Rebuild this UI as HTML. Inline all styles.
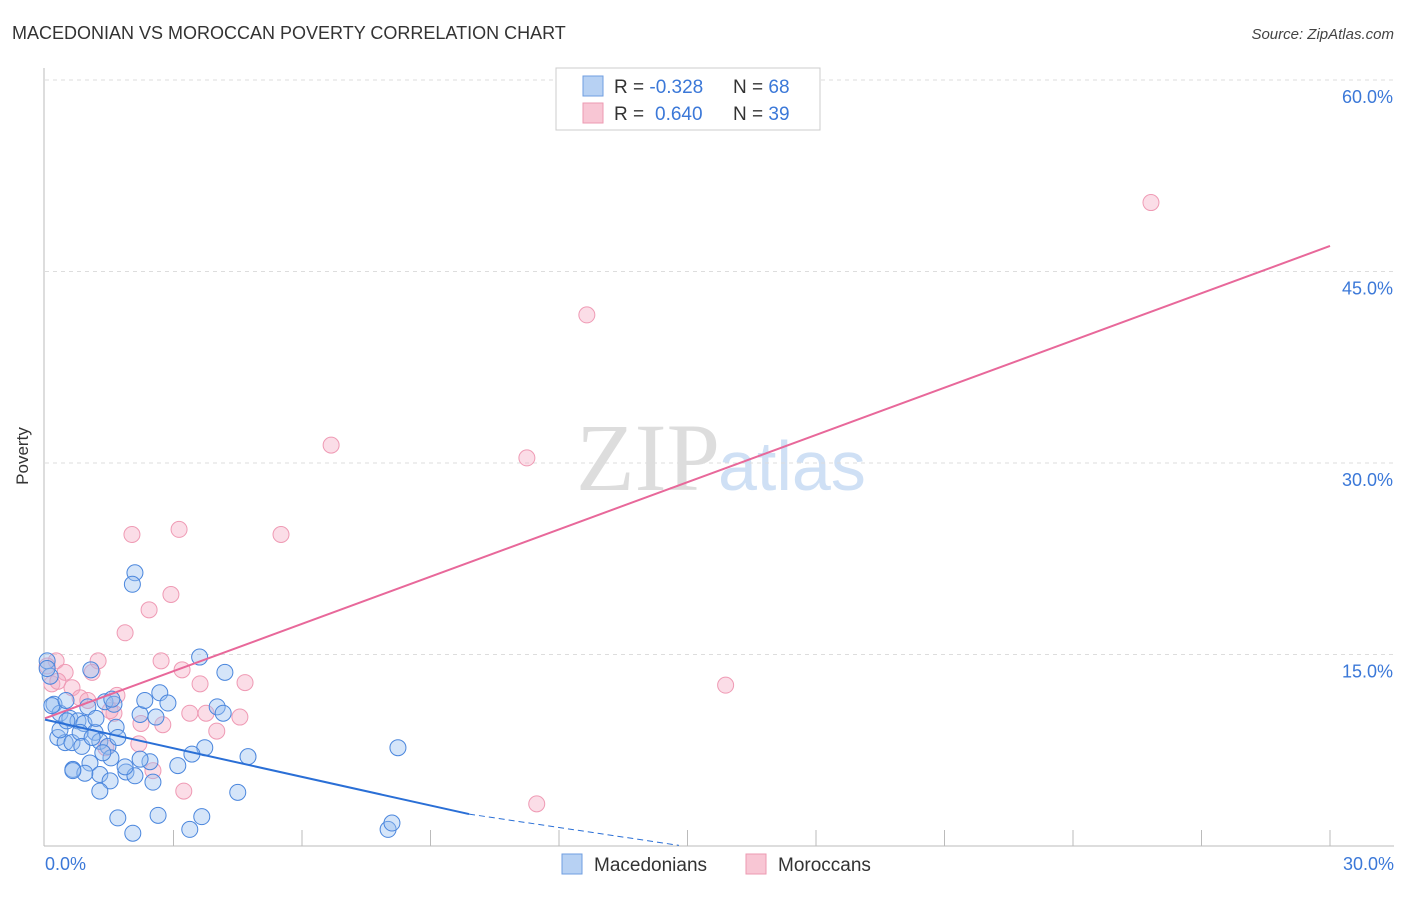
<!DOCTYPE html>
<html><head><meta charset="utf-8"><style>
body{margin:0;background:#fff;font-family:"Liberation Sans",sans-serif}
</style></head><body>
<svg width="1406" height="892" xmlns="http://www.w3.org/2000/svg" font-family="Liberation Sans, sans-serif">
<text x="12" y="39" font-size="18" fill="#333">MACEDONIAN VS MOROCCAN POVERTY CORRELATION CHART</text>
<text x="1394" y="39" font-size="15" fill="#444" text-anchor="end" font-style="italic">Source: ZipAtlas.com</text>
<text x="720" y="490" font-size="96" fill="#ddd" text-anchor="end" font-family="Liberation Serif, serif">ZIP</text>
<text x="718" y="490" font-size="70" fill="#cfe0f5">atlas</text>
<g id="grid"></g>
<line x1="44" y1="68" x2="44" y2="846" stroke="#bbb"/>
<line x1="44" y1="846" x2="1394" y2="846" stroke="#bbb"/>
<text x="28" y="456" font-size="17" fill="#333" text-anchor="middle" transform="rotate(-90 28 456)">Poverty</text>
<text x="45" y="870" font-size="18" fill="#3b78d8">0.0%</text>
<text x="1394" y="870" font-size="18" fill="#3b78d8" text-anchor="end">30.0%</text>
<g id="pts"></g>
<g id="lines"></g>
<g>
<rect x="556" y="68" width="264" height="62" fill="#fff" stroke="#ccc"/>
<rect x="583" y="76" width="20" height="20" fill="#b7d1f3" stroke="#6f9ee0"/>
<rect x="583" y="103" width="20" height="20" fill="#f8c6d4" stroke="#ec9ab2"/>
<text x="614" y="93" font-size="19" fill="#333">R = <tspan fill="#3b78d8">-0.328</tspan><tspan x="733">N = </tspan><tspan fill="#3b78d8">68</tspan></text>
<text x="614" y="120" font-size="19" fill="#333">R = <tspan fill="#3b78d8" x="655">0.640</tspan><tspan x="733">N = </tspan><tspan fill="#3b78d8">39</tspan></text>
</g>
<g>
<rect x="562" y="854" width="20" height="20" fill="#b7d1f3" stroke="#6f9ee0"/>
<text x="594" y="871" font-size="19" fill="#333">Macedonians</text>
<rect x="746" y="854" width="20" height="20" fill="#f8c6d4" stroke="#ec9ab2"/>
<text x="778" y="871" font-size="19" fill="#333">Moroccans</text>
</g>
</svg>
<script>
const yTicks=[15,30,45,60];
const yTickLabels=["15.0%","30.0%","45.0%","60.0%"];
const macX=[2.1,2.04,3.61,4.2,2.68,2.87,4.02,4.16,2.22,2.59,1.66,3.73,3.43,4.74,3.1,8.24,1.07,0.05,0.12,0.21,0.35,0.58,0.77,0.91,1.0,1.17,1.28,1.47,0.3,0.47,0.63,0.82,1.05,1.28,1.52,1.89,0.65,0.93,2.1,2.52,1.28,1.7,2.05,2.64,3.38,3.66,4.5,8.01,8.1,0.05,0.16,1.4,1.61,0.86,0.35,0.51,1.19,1.54,1.87,1.35,0.65,2.33,1.56,0.49,1.1,2.45,2.22,1.7];
const macY=[21.4,20.5,14.8,13.6,12.0,11.2,10.9,10.4,10.3,10.1,9.3,7.7,7.2,7.0,6.3,7.7,13.8,14.5,13.3,11.1,10.4,10.0,9.8,9.6,10.9,8.9,8.2,7.8,8.5,8.1,8.1,8.9,6.5,5.6,5.1,5.8,6.0,5.7,5.5,5.0,4.3,2.2,1.0,2.4,1.3,2.3,4.2,1.3,1.8,13.9,11.0,11.3,11.1,7.8,9.1,9.8,10.0,6.9,6.2,7.3,5.9,11.4,11.5,11.4,8.5,6.6,6.8,8.5];
const morX=[25.82,12.65,6.68,11.25,2.03,3.13,5.51,2.94,2.43,1.87,1.24,2.71,3.2,0.26,0.05,0.47,1.1,3.62,4.67,4.55,3.38,3.76,2.75,2.24,1.61,1.68,0.63,0.82,1.0,0.16,0.3,1.42,2.19,2.52,3.24,4.01,11.48,15.89,1.52];
const morY=[50.4,41.6,31.4,30.4,24.4,24.8,24.4,19.7,18.5,16.7,14.5,14.5,13.8,14.5,14.1,13.6,13.6,12.7,12.8,10.1,10.4,10.4,9.5,9.6,10.4,11.8,12.4,11.6,11.4,12.7,12.9,7.7,8.0,5.9,4.3,9.0,3.3,12.6,10.6];
const macTrend=[0,9.9,9.9,2.5,14.8,0.05];
const morTrend=[0,10.0,30,47.0];
const X=v=>45+v/30*1285, Y=v=>846-v/15*191.5;
const NS="http://www.w3.org/2000/svg";
function mk(t,a,p){const e=document.createElementNS(NS,t);for(const k in a)e.setAttribute(k,a[k]);p.appendChild(e);return e;}
const g=document.getElementById('grid');
yTicks.forEach((t,i)=>{
 const l=mk('line',{x1:45,x2:1394,y1:Y(t),y2:Y(t),stroke:'#ddd','stroke-dasharray':'4,4'},g);
 
 
 const tx=mk('text',{x:1393,y:Y(t)+23,'font-size':18,fill:'#3b78d8','text-anchor':'end'},g);
 tx.textContent=yTickLabels[i];
 
 
});
for(let i=1;i<=10;i++){
 const l=mk('line',{x1:X(i*3),x2:X(i*3),y1:830,y2:846,stroke:'#bbb'},g);
 
 
}
const p=document.getElementById('pts');
morX.forEach((x,i)=>{const c=mk('circle',{cx:X(x),cy:Y(morY[i]),r:8,fill:'rgba(246,170,195,0.4)',stroke:'#ef9ab4','stroke-width':1},p);
 
 });
macX.forEach((x,i)=>{const c=mk('circle',{cx:X(x),cy:Y(macY[i]),r:8,fill:'rgba(150,190,240,0.4)',stroke:'#4a86dd','stroke-width':1},p);
 
 });
const L=document.getElementById('lines');
let a=mk('line',{x1:X(morTrend[0]),y1:Y(morTrend[1]),x2:X(morTrend[2]),y2:Y(morTrend[3]),stroke:'#e8689a','stroke-width':2},L);


a=mk('line',{x1:X(macTrend[0]),y1:Y(macTrend[1]),x2:X(macTrend[2]),y2:Y(macTrend[3]),stroke:'#2a6fd6','stroke-width':2},L);


a=mk('line',{x1:X(macTrend[2]),y1:Y(macTrend[3]),x2:X(macTrend[4]),y2:Y(macTrend[5]),stroke:'#2a6fd6','stroke-width':1,'stroke-dasharray':'6,4'},L);


</script>
</body></html>
